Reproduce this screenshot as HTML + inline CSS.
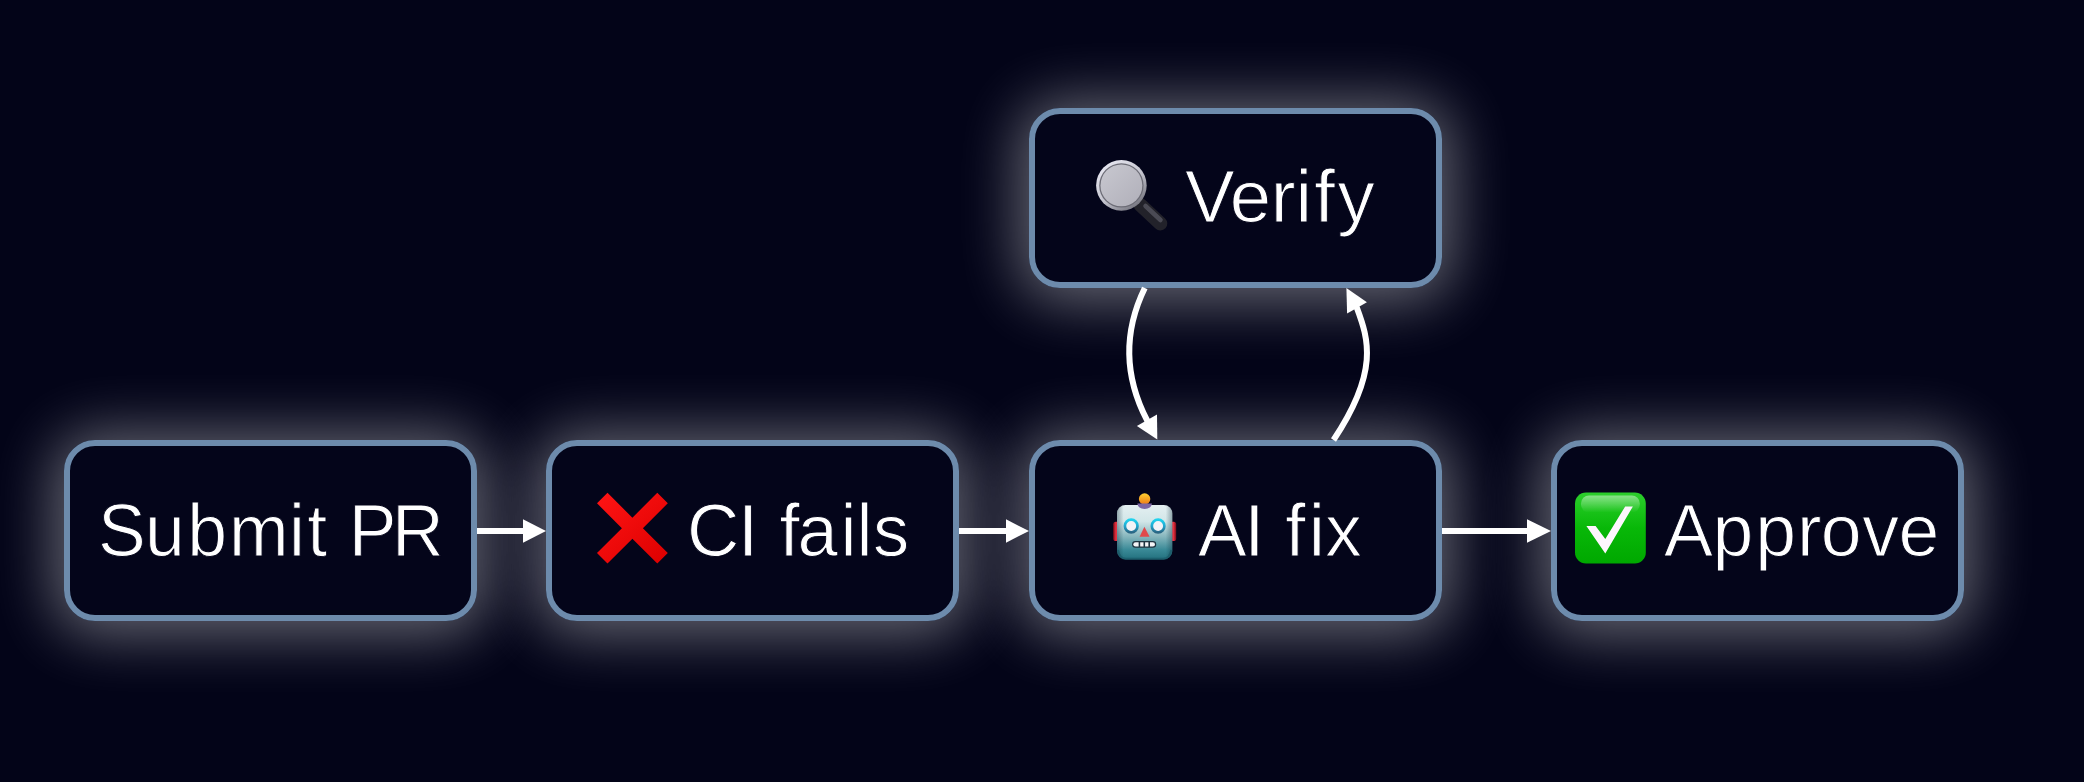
<!DOCTYPE html>
<html><head><meta charset="utf-8">
<style>
html,body{margin:0;padding:0;}
body{width:2084px;height:782px;background:#030418;position:relative;overflow:hidden;font-family:"Liberation Sans",sans-serif;}
.box{position:absolute;box-sizing:border-box;width:413px;height:181px;border:6px solid #6d8bac;border-radius:31px;background:#04051a;
 }
.glow{position:absolute;width:413px;height:181px;border-radius:31px;box-shadow:0 3px 60px 10px rgba(255,255,255,0.40);}
.lbl{position:absolute;font-size:75px;line-height:80px;color:#fff;white-space:nowrap;-webkit-text-stroke:1px #04051a;transform-origin:0 0;font-kerning:none;}
svg{position:absolute;left:0;top:0;}
</style></head>
<body>
<div class="glow" style="left:64px;top:440px"></div>
<div class="glow" style="left:546px;top:440px"></div>
<div class="glow" style="left:1029px;top:440px"></div>
<div class="glow" style="left:1551px;top:440px"></div>
<div class="glow" style="left:1029px;top:108px;height:180px"></div>
<div class="box" style="left:64px;top:440px"></div>
<div class="box" style="left:546px;top:440px"></div>
<div class="box" style="left:1029px;top:440px"></div>
<div class="box" style="left:1551px;top:440px"></div>
<div class="box" style="left:1029px;top:108px;height:180px"></div>

<div class="lbl" style="left:98.2px;top:490px;transform:scaleX(0.9543)"><span style="letter-spacing:-0.77px">S</span><span style="letter-spacing:2.51px">u</span><span style="letter-spacing:2.09px">b</span><span style="letter-spacing:0.40px">m</span><span style="letter-spacing:2.41px">i</span><span style="letter-spacing:1.81px">t</span> <span style="letter-spacing:-4.86px">P</span>R</div>
<div class="lbl" style="left:687.1px;top:490px;transform:scaleX(0.9645)"><span style="letter-spacing:-1.39px">C</span><span style="letter-spacing:1.35px">I</span> <span style="letter-spacing:-1.97px">f</span><span style="letter-spacing:2.66px">a</span><span style="letter-spacing:-0.07px">i</span><span style="letter-spacing:0.44px">l</span>s</div>
<div class="lbl" style="left:1198.4px;top:490px;transform:scaleX(0.9722)"><span style="letter-spacing:-2.50px">A</span><span style="letter-spacing:0.60px">I</span> <span style="letter-spacing:3.23px">f</span><span style="letter-spacing:0.41px">i</span>x</div>
<div class="lbl" style="left:1664.0px;top:490px;transform:scaleX(0.9782)"><span style="letter-spacing:-0.44px">A</span><span style="letter-spacing:2.04px">p</span><span style="letter-spacing:0.92px">p</span><span style="letter-spacing:-0.65px">r</span><span style="letter-spacing:0.61px">o</span><span style="letter-spacing:-0.49px">v</span>e</div>
<div class="lbl" style="left:1184.7px;top:156px;transform:scaleX(0.9924)"><span style="letter-spacing:-4.88px">V</span><span style="letter-spacing:-0.40px">e</span><span style="letter-spacing:0.01px">r</span><span style="letter-spacing:2.18px">i</span><span style="letter-spacing:2.44px">f</span>y</div>


<svg width="2084" height="782" viewBox="0 0 2084 782">
<defs>
 <linearGradient id="gx" gradientUnits="userSpaceOnUse" x1="600" y1="493" x2="665" y2="564"><stop offset="0" stop-color="#ff1414"/><stop offset="1" stop-color="#dc0000"/></linearGradient>
 <linearGradient id="gg" x1="0" y1="0" x2="0" y2="1"><stop offset="0" stop-color="#2ccf2c"/><stop offset="0.5" stop-color="#08b808"/><stop offset="1" stop-color="#00a800"/></linearGradient>
 <linearGradient id="rhead" x1="0" y1="0" x2="0" y2="1"><stop offset="0" stop-color="#e4eff1"/><stop offset="0.3" stop-color="#d2e6e8"/><stop offset="0.58" stop-color="#86b6bd"/><stop offset="0.82" stop-color="#3a8a97"/><stop offset="1" stop-color="#22707e"/></linearGradient>
 <linearGradient id="rside" x1="0" y1="0" x2="1" y2="0"><stop offset="0" stop-color="#0a2a38" stop-opacity="0.35"/><stop offset="0.12" stop-color="#0a2a38" stop-opacity="0"/><stop offset="0.88" stop-color="#0a2a38" stop-opacity="0"/><stop offset="1" stop-color="#0a2a38" stop-opacity="0.35"/></linearGradient>
 <linearGradient id="rant" x1="0" y1="0" x2="0" y2="1"><stop offset="0" stop-color="#ffd030"/><stop offset="1" stop-color="#ee7a18"/></linearGradient>
 <linearGradient id="rear" x1="0" y1="0" x2="1" y2="0"><stop offset="0" stop-color="#7a0c18"/><stop offset="0.5" stop-color="#f03444"/><stop offset="1" stop-color="#7a0c18"/></linearGradient>
 <linearGradient id="reye" x1="0" y1="0" x2="0" y2="1"><stop offset="0" stop-color="#1fd2ee"/><stop offset="0.5" stop-color="#20a8d0"/><stop offset="1" stop-color="#2a6684"/></linearGradient>
 <linearGradient id="mglass" x1="0" y1="0" x2="1" y2="1"><stop offset="0" stop-color="#c8c8d0"/><stop offset="1" stop-color="#b0afb9"/></linearGradient>
 <linearGradient id="mrim" x1="0.2" y1="0.1" x2="0.8" y2="0.9"><stop offset="0" stop-color="#e4e4ee"/><stop offset="0.55" stop-color="#c4c4ce"/><stop offset="1" stop-color="#7a7a84"/></linearGradient>
 <linearGradient id="ghl" x1="0" y1="0" x2="0" y2="1"><stop offset="0" stop-color="#fff" stop-opacity="0.45"/><stop offset="1" stop-color="#fff" stop-opacity="0"/></linearGradient>
</defs>
<!-- straight arrows -->
<g fill="#fff">
 <rect x="477" y="528" width="47" height="6"/><polygon points="523,519.3 546,531 523,542.7"/>
 <rect x="959" y="528" width="48" height="6"/><polygon points="1006,519.3 1029,531 1006,542.7"/>
 <rect x="1442" y="528" width="86" height="6"/><polygon points="1527,519.3 1551,531 1527,542.7"/>
</g>
<!-- curved arrows -->
<path d="M1144.8,288 C1125.4,327.8 1122.2,372.4 1147,420.2 L1148.8,423.8" fill="none" stroke="#fff" stroke-width="6"/>
<polygon points="1157.3,439.5 1136.9,426.1 1157,414.6" fill="#fff"/>
<path d="M1333.5,440 C1379.2,371.5 1368.5,339.1 1357,308.1 L1355.2,304.5" fill="none" stroke="#fff" stroke-width="6"/>
<polygon points="1346.4,288 1347.1,313.6 1366.9,302.3" fill="#fff"/>

<!-- X emoji -->
<polygon points="621.9,528.2 597.0,503.3 607.5,492.8 632.4,517.7 657.3,492.8 667.8,503.3 642.9,528.2 667.8,553.1 657.3,563.6 632.4,538.7 607.5,563.6 597.0,553.1" fill="url(#gx)"/>
<!-- robot emoji -->
<g>
 <rect x="1113.2" y="521.7" width="6" height="19.4" rx="2.6" fill="url(#rear)"/>
 <rect x="1170.2" y="521.7" width="6" height="19.4" rx="2.6" fill="url(#rear)"/>
 <circle cx="1144.6" cy="499" r="5.7" fill="url(#rant)"/>
 <rect x="1117" y="505" width="55.3" height="54.5" rx="8.5" fill="url(#rhead)"/>
 <rect x="1117" y="505" width="55.3" height="54.5" rx="8.5" fill="url(#rside)"/>
 <path d="M1118,550 Q1119.5,558.8 1126,558.8 H1163.3 Q1169.8,558.8 1171.3,550" fill="none" stroke="#1a5866" stroke-width="2" stroke-opacity="0.7"/>
 <path d="M1137.3,503.6 H1152 Q1151.2,509 1144.6,509 Q1138.1,509 1137.3,503.6Z" fill="#7c66a4"/>
 <circle cx="1131.2" cy="526" r="6.3" fill="#f3f3f7" stroke="url(#reye)" stroke-width="2.7"/>
 <circle cx="1158.1" cy="526" r="6.3" fill="#f3f3f7" stroke="url(#reye)" stroke-width="2.7"/>
 <polygon points="1144.4,526.8 1139.6,536.8 1149.6,536.8" fill="#e0494b"/>
 <rect x="1132.1" y="541.1" width="24.1" height="6.6" rx="3.3" fill="#1e3440"/>
 <path d="M1135.6,542.3 H1138.6 V546.5 H1135.6 Q1133.3,546.5 1133.3,544.4 Q1133.3,542.3 1135.6,542.3Z" fill="#f4f4f6"/>
 <rect x="1140.2" y="542.3" width="3.3" height="4.2" fill="#f4f4f6"/>
 <rect x="1145.1" y="542.3" width="3.3" height="4.2" fill="#f4f4f6"/>
 <path d="M1150,542.3 H1152.7 Q1155,542.3 1155,544.4 Q1155,546.5 1152.7,546.5 H1150Z" fill="#f4f4f6"/>
</g>
<!-- magnifier emoji -->
<g>
 <line x1="1140.5" y1="205" x2="1160.3" y2="223.5" stroke="#22222a" stroke-width="14" stroke-linecap="round"/>
 <line x1="1145.5" y1="206" x2="1160.5" y2="220" stroke="#55555f" stroke-width="4.5" stroke-linecap="round" stroke-opacity="0.8"/>
 <circle cx="1121.4" cy="185.4" r="25.3" fill="url(#mrim)"/>
 <circle cx="1121.4" cy="185.4" r="22.2" fill="#6c6c76"/>
 <circle cx="1121.4" cy="185.4" r="20.9" fill="url(#mglass)"/>
</g>
<!-- check emoji -->
<rect x="1575" y="492.6" width="70.8" height="70.8" rx="11" fill="url(#gg)"/>
<rect x="1581" y="495.5" width="58.8" height="17" rx="8" fill="url(#ghl)"/>
<polygon points="1586.4,525.9 1595.6,525.9 1605.3,539.1 1625.2,506.4 1632.9,506.4 1605.3,553.5" fill="#fdf6fd"/>
</svg>
</body></html>
